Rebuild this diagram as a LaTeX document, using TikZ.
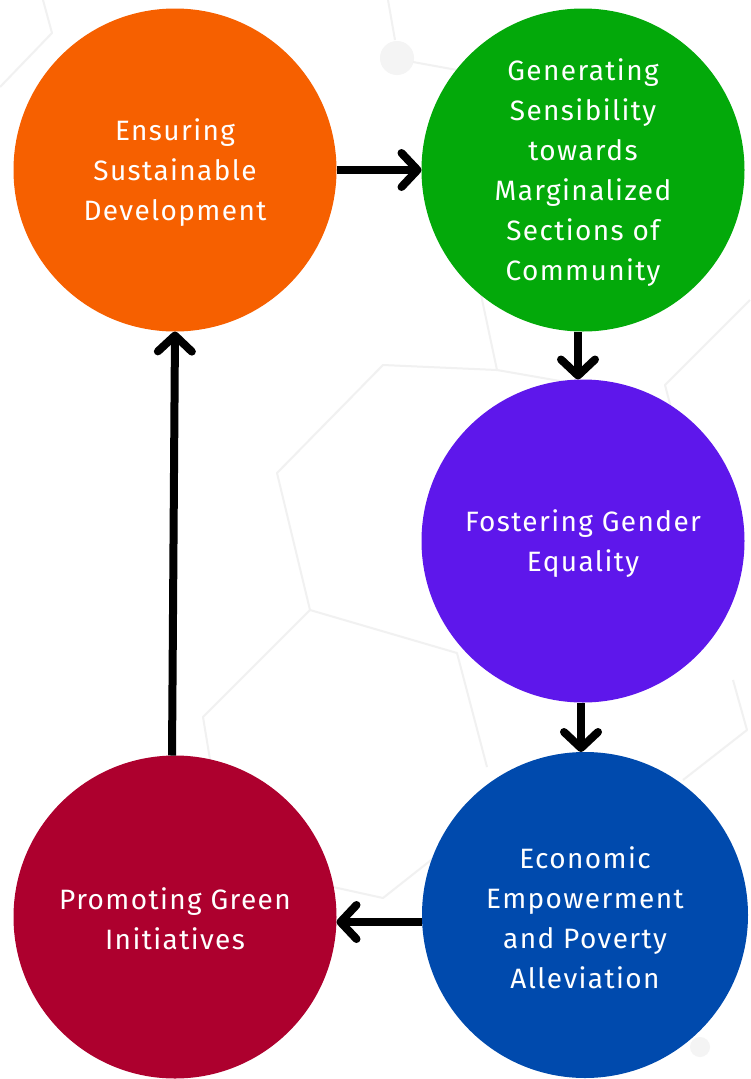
\documentclass[tikz,border=0pt]{standalone}
\usepackage{fontspec}
\setmainfont[LetterSpace=5]{Fira Sans}
\usetikzlibrary{arrows.meta}
\definecolor{cOrange}{HTML}{F66000}
\definecolor{cGreen}{HTML}{03A90A}
\definecolor{cPurple}{HTML}{5E17EB}
\definecolor{cBlue}{HTML}{004AAD}
\definecolor{cRed}{HTML}{AD002E}
\definecolor{bgline}{HTML}{F1F1F1}
\definecolor{bgdot}{HTML}{F4F4F4}
\begin{document}
\begin{tikzpicture}[x=1pt,y=-1pt,
  bubble/.style={circle,minimum size=323pt,inner sep=0pt,outer sep=0pt},
  txt/.style={text=white,align=center,inner sep=0pt,font=\fontsize{28}{40}\selectfont},
  arr/.style={line width=8pt,-{Straight Barb[length=16pt,width=34pt,round]}},
  bgl/.style={draw=bgline,line width=2pt,line join=round}]
\useasboundingbox (0,0) rectangle (750,1079);
\fill[white] (0,0) rectangle (750,1079);
% faint background pattern
\draw[bgl] (43,0) -- (52,33) -- (0,87);
\draw[bgl] (388,0) -- (395,40);
\fill[bgdot] (397,58) circle (17);
\draw[bgl] (413,62) -- (457,70);
\draw[bgl] (480,290) -- (497,370) -- (600,388);
\draw[bgl] (497,370) -- (383,365) -- (277,473) -- (310,610) -- (457,653) -- (487,767);
\draw[bgl] (310,610) -- (203,717) -- (215,790);
\draw[bgl] (750,300) -- (665,385) -- (690,480);
\draw[bgl] (733,680) -- (747,730) -- (683,780);
\draw[bgl] (333,887) -- (383,898) -- (440,853);
\fill[bgdot] (700,1047) circle (10);
% bubbles
\node[bubble,fill=cOrange] (o) at (175,170) {};
\node[bubble,fill=cGreen] (g) at (583,170) {};
\node[bubble,fill=cPurple] (p) at (583,541) {};
\node[bubble,fill=cBlue,minimum size=326pt] (b) at (585,915) {};
\node[bubble,fill=cRed] (r) at (175,917) {};
% texts
\node[txt] (ot) at ([yshift=-3pt]o.center) {Ensuring\\Sustainable\\Development};
\node[txt] (gt) at ([yshift=-3pt]g.center) {Generating\\Sensibility\\towards\\Marginalized\\Sections of\\Community};
\node[txt] (pt) at ([yshift=-3pt]p.center) {Fostering Gender\\Equality};
\node[txt] (bt) at ([yshift=-3pt]b.center) {Economic\\Empowerment\\and Poverty\\Alleviation};
\node[txt] (rt) at ([yshift=-2pt]r.center) {Promoting Green\\Initiatives};
% connectors
\draw[arr] (o.east) -- (g.west);
\draw[arr] ([xshift=-5pt]g.south) -- ([xshift=-5pt]p.north);
\draw[arr] ([xshift=-2pt]p.south) -- ([xshift=-4pt]b.north);
\draw[arr] ([yshift=-7pt]b.west) -- ([yshift=-5pt]r.east);
\draw[arr] ([xshift=-3pt]r.north) -- (o.south);
\end{tikzpicture}
\end{document}
